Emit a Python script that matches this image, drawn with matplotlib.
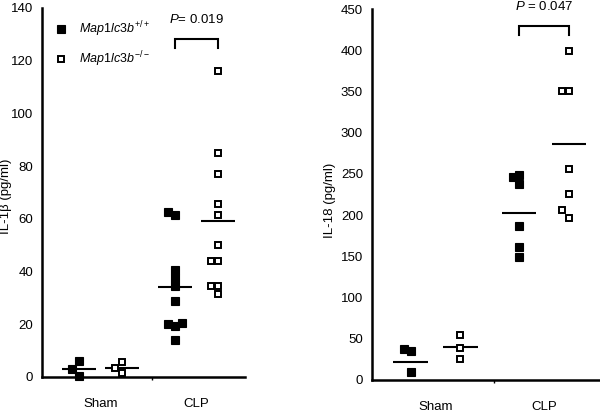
import matplotlib
matplotlib.use('Agg')
import matplotlib.pyplot as plt
import numpy as np

plt.rcParams['font.family'] = ['Liberation Sans', 'DejaVu Sans']
plt.rcParams['mathtext.fontset'] = 'custom'
plt.rcParams['mathtext.rm'] = 'Liberation Sans'
plt.rcParams['mathtext.it'] = 'Liberation Sans:italic'

# ---------------- data ----------------
groups = ['Sham', 'CLP']
genotype_labels = [r'$\mathit{Map1lc3b}^{+/+}$', r'$\mathit{Map1lc3b}^{-/-}$']

il1b_sham_wt = [6, 3, 0.5]
il1b_sham_ko = [5.5, 3.5, 1.5]
il1b_clp_wt = [62.5, 61.5, 40.5, 37.5, 34.5, 29, 20.5, 20, 19.5, 14]
il1b_clp_ko = [116, 85, 77, 65.5, 61.5, 50, 44, 44, 34.5, 34.5, 31.5]
il1b_means_wt = [3, 34]
il1b_means_ko = [3.5, 59]
il1b_p = r'$\mathit{P}$= 0.019'
il1b_yticks = [0, 20, 40, 60, 80, 100, 120, 140]

il18_sham_wt = [35, 37, 9]
il18_sham_ko = [54, 39, 25]
il18_clp_wt = [246, 249, 238, 187, 161, 149]
il18_clp_ko = [399, 351, 351, 256, 226, 206, 197]
il18_means_wt = [22, 203]
il18_means_ko = [40, 286]
il18_p = r'$\mathit{P}$ = 0.047'
il18_yticks = [0, 50, 100, 150, 200, 250, 300, 350, 400, 450]


def swarm(vals, thr, step):
    vals = np.asarray(vals, dtype=float)
    order = np.argsort(vals)
    placed = []
    offs = np.zeros(len(vals))
    for i in order:
        v = vals[i]
        chosen = 0
        for k in [0, -1, 1, -2, 2]:
            if all(abs(v - pv) >= thr or pk != k for pv, pk in placed):
                chosen = k
                break
        placed.append((v, chosen))
        offs[i] = chosen * step
    return offs


def panel(ax, wt, ko, means_wt, means_ko, ylim, yticks, ylabel, ptext,
          d, half, thr, step, xlim, brk, ptext_y, legend=False):
    handles = []
    for gi in range(2):
        xc = gi + 1
        xw, xk = xc - d, xc + d
        h1, = ax.plot(xw + swarm(wt[gi], thr, step), wt[gi], 's', ms=5.2,
                      mfc='black', mec='black', mew=0.8, clip_on=False, zorder=3)
        h2, = ax.plot(xk + swarm(ko[gi], thr, step), ko[gi], 's', ms=5.0,
                      mfc='white', mec='black', mew=1.4, clip_on=False, zorder=3)
        ax.plot([xw - half, xw + half], [means_wt[gi]] * 2, color='black',
                lw=1.5, solid_capstyle='butt', zorder=2)
        ax.plot([xk - half, xk + half], [means_ko[gi]] * 2, color='black',
                lw=1.5, solid_capstyle='butt', zorder=2)
        if gi == 0:
            handles = [h1, h2]
    # significance bracket
    xa, xb = 2 - d, 2 + d
    ax.plot([xa, xa, xb, xb], [brk[0], brk[1], brk[1], brk[0]], color='black',
            lw=1.5, clip_on=False, solid_joinstyle='miter')
    ax.text(2, ptext_y, ptext, ha='center', va='center',
            fontsize=9.5, clip_on=False)

    ax.set_xlim(*xlim)
    ax.set_ylim(*ylim)
    ax.set_yticks(yticks)
    ax.tick_params(axis='y', length=0, pad=6.5, labelsize=9.5)
    ax.set_xticks([1.54])
    ax.set_xticklabels([''])
    ax.tick_params(axis='x', which='major', length=2.5, width=1, direction='out')
    ax.set_xticks([1, 2], minor=True)
    ax.set_xticklabels(groups, minor=True)
    ax.tick_params(axis='x', which='minor', length=0, pad=15, labelsize=9.5)
    for s in ['top', 'right']:
        ax.spines[s].set_visible(False)
    for s in ['left', 'bottom']:
        ax.spines[s].set_linewidth(1.8)
    ax.set_ylabel(ylabel, fontsize=9.5)
    if legend:
        ax.legend(handles, genotype_labels, loc='upper left',
                  bbox_to_anchor=(0.064, 0.969), frameon=False, fontsize=9,
                  handlelength=1.0, handletextpad=0.9, labelspacing=0.85,
                  borderpad=0, borderaxespad=0)
    return ax


fig = plt.figure(figsize=(6, 4.12), dpi=100)
ax1 = fig.add_axes([0.07, 0.085, 0.338, 0.896])
ax2 = fig.add_axes([0.62, 0.078, 0.38, 0.900])

panel(ax1, [il1b_sham_wt, il1b_clp_wt], [il1b_sham_ko, il1b_clp_ko],
      il1b_means_wt, il1b_means_ko, (0, 140), il1b_yticks,
      'IL-1β (pg/ml)', il1b_p, d=0.224, half=0.18, thr=3.0, step=0.075,
      xlim=(0.39, 2.505), brk=(124.8, 128.2), ptext_y=135.4, legend=True)
ax1.yaxis.set_label_coords(-0.15, 0.49)

panel(ax2, [il18_sham_wt, il18_clp_wt], [il18_sham_ko, il18_clp_ko],
      il18_means_wt, il18_means_ko, (0, 450), il18_yticks,
      'IL-18 (pg/ml)', il18_p, d=0.23, half=0.16, thr=10.0, step=0.06,
      xlim=(0.415, 2.516), brk=(419, 430), ptext_y=453)
ax2.yaxis.set_label_coords(-0.158, 0.485)

fig.savefig('out.png', dpi=100)
